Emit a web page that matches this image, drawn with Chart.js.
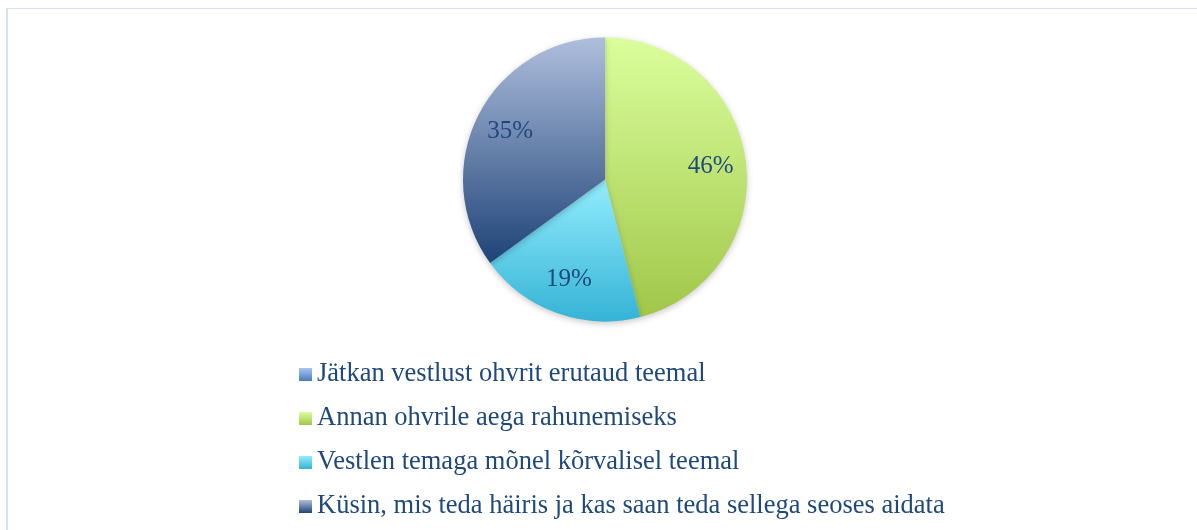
<!DOCTYPE html>
<html>
<head>
<meta charset="utf-8">
<script src="https://cdn.jsdelivr.net/npm/chart.js@4/dist/chart.umd.min.js"></script>
<style>
  html, body { margin: 0; padding: 0; background: #fff; }
  #wrap { position: relative; width: 1197px; height: 530px; overflow: hidden; }
  #frame {
    position: absolute; left: 6px; top: 8px; width: 1300px; height: 600px;
    border-left: 2px solid #d3e2f4; border-top: 1px solid #d3e2f4;
  }
  #pie { position: absolute; left: 0; top: 0; }
  #legend {
    position: absolute; left: 299px; top: 355px; margin: 0; padding: 0;
    list-style: none; font-family: 'Liberation Serif', serif; font-size: 26.5px;
    color: #1f497d;
  }
  #legend li { height: 44px; line-height: 34px; white-space: nowrap; }
  #legend span.box {
    display: inline-block; width: 13px; height: 13px; margin-right: 5px;
    vertical-align: 0px;
  }
</style>
</head>
<body>
<div id="wrap">
  <div id="frame"></div>
  <canvas id="pie" width="1197" height="530"></canvas>
  <ul id="legend"></ul>
</div>
<script>
// andmed
const categories = [
  'Jätkan vestlust ohvrit erutaud teemal',
  'Annan ohvrile aega rahunemiseks',
  'Vestlen temaga mõnel kõrvalisel teemal',
  'Küsin, mis teda häiris ja kas saan teda sellega seoses aidata'
];
const shares = [0, 46, 19, 35];
const percentLabels = ['0%', '46%', '19%', '35%'];

// gradient: [ülemine, alumine]
const sliceColors = [
  ['#a7c4f4', '#4a7ebb'],
  ['#dbfe9d', '#a0c749'],
  ['#93edfd', '#35b3d6'],
  ['#afbedd', '#1e4377']
];

// slice y-range so each slice gets its own top-to-bottom gradient
function sliceYRange(chart, index) {
  const area = chart.chartArea;
  const cx = (area.left + area.right) / 2;
  const cy = (area.top + area.bottom) / 2;
  const r = Math.min(area.right - area.left, area.bottom - area.top) / 2;
  const total = shares.reduce((a, b) => a + b, 0);
  let start = -Math.PI / 2;
  for (let i = 0; i < index; i++) start += shares[i] / total * Math.PI * 2;
  const end = start + shares[index] / total * Math.PI * 2;
  const ys = [cy, cy + r * Math.sin(start), cy + r * Math.sin(end)];
  // check the extremes at 90° and 270°
  [Math.PI / 2, Math.PI * 1.5, -Math.PI / 2].forEach(a => {
    if (a >= start && a <= end) ys.push(cy + r * Math.sin(a));
  });
  return [Math.min(...ys), Math.max(...ys), cx];
}

function sliceFill(context) {
  const chart = context.chart;
  const i = context.dataIndex;
  if (!chart.chartArea || i === undefined) return sliceColors[i || 0][1];
  const [y0, y1] = sliceYRange(chart, i);
  const g = chart.ctx.createLinearGradient(0, y0, 0, Math.max(y1, y0 + 1));
  g.addColorStop(0, sliceColors[i][0]);
  g.addColorStop(1, sliceColors[i][1]);
  return g;
}

// protsendid viilude sisse
const percentPlugin = {
  id: 'percentPlugin',
  afterDatasetsDraw(chart) {
    const ctx = chart.ctx;
    const meta = chart.getDatasetMeta(0);
    ctx.save();
    ctx.font = "25px 'Liberation Serif', serif";
    ctx.fillStyle = '#1f497d';
    ctx.textAlign = 'center';
    ctx.textBaseline = 'middle';
    meta.data.forEach((arc, i) => {
      if (!shares[i]) return;
      const mid = (arc.startAngle + arc.endAngle) / 2;
      const d = arc.outerRadius * 0.75;
      ctx.fillText(percentLabels[i], arc.x + Math.cos(mid) * d, arc.y + Math.sin(mid) * d);
    });
    ctx.restore();
  }
};

// light shadow under the pie
const shadowPlugin = {
  id: 'shadowPlugin',
  beforeDatasetsDraw(chart) {
    const ctx = chart.ctx;
    ctx.save();
    ctx.shadowColor = 'rgba(0,0,0,0.22)';
    ctx.shadowBlur = 6;
    ctx.shadowOffsetY = 2;
  },
  afterDatasetsDraw(chart) {
    chart.ctx.restore();
  }
};

// HTML legend from the chart's own legend items
const htmlLegend = {
  id: 'htmlLegend',
  afterUpdate(chart) {
    const ul = document.getElementById('legend');
    ul.innerHTML = '';
    const items = chart.options.plugins.legend.labels.generateLabels(chart);
    items.forEach(item => {
      const li = document.createElement('li');
      const box = document.createElement('span');
      box.className = 'box';
      const c = sliceColors[item.index];
      box.style.background = `linear-gradient(${c[0]}, ${c[1]})`;
      li.appendChild(box);
      li.appendChild(document.createTextNode(item.text));
      ul.appendChild(li);
    });
  }
};

new Chart(document.getElementById('pie'), {
  type: 'pie',
  data: {
    labels: categories,
    datasets: [{
      data: shares,
      backgroundColor: sliceFill,
      borderWidth: 0
    }]
  },
  options: {
    responsive: false,
    animation: false,
    layout: { padding: { top: 37, bottom: 208, left: 463, right: 450 } },
    plugins: {
      legend: { display: false },
      tooltip: { enabled: false }
    }
  },
  plugins: [shadowPlugin, percentPlugin, htmlLegend]
});
</script>
</body>
</html>
